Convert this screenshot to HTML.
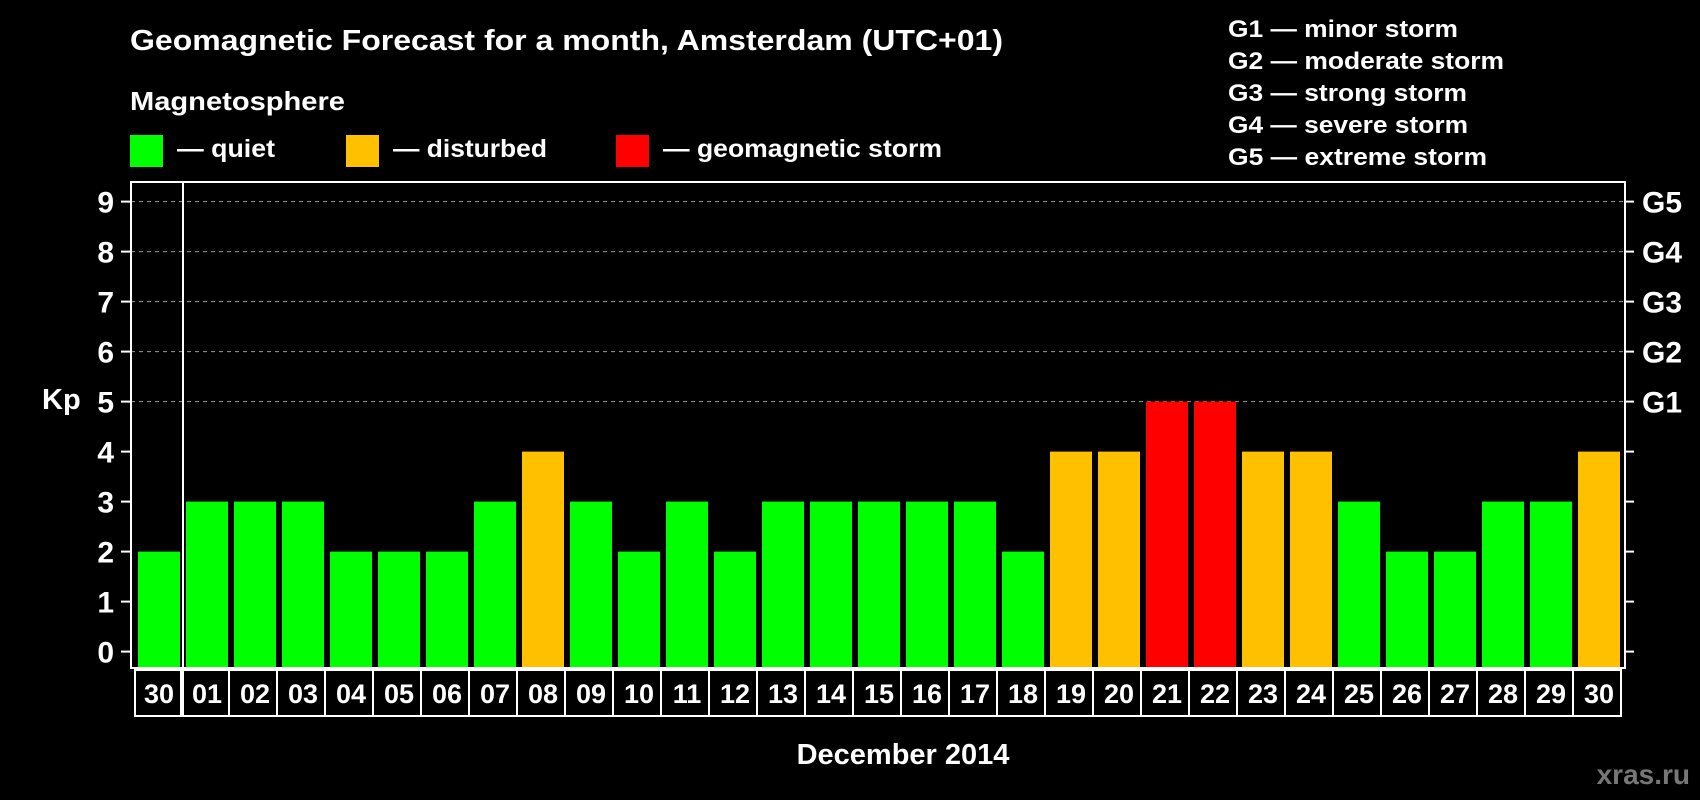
<!DOCTYPE html>
<html><head><meta charset="utf-8"><style>
html,body{margin:0;padding:0;background:#000;}
svg{display:block;font-family:"Liberation Sans",Arial,sans-serif;font-weight:bold;}
</style></head><body>
<svg id="chart" width="1700" height="800" viewBox="0 0 1700 800" xmlns="http://www.w3.org/2000/svg">
<rect width="1700" height="800" fill="#000"/>
<text x="130" y="50" fill="#fff" font-size="29" textLength="873" lengthAdjust="spacingAndGlyphs">Geomagnetic Forecast for a month, Amsterdam (UTC+01)</text>
<text x="130" y="110" fill="#fff" font-size="26" textLength="215" lengthAdjust="spacingAndGlyphs">Magnetosphere</text>
<g>
<rect x="130" y="135" width="33" height="32" fill="#00ff00"/>
<text x="177" y="157" fill="#fff" font-size="25" textLength="98" lengthAdjust="spacingAndGlyphs">— quiet</text></g>
<g>
<rect x="346" y="135" width="33" height="32" fill="#ffc000"/>
<text x="393" y="157" fill="#fff" font-size="25" textLength="154" lengthAdjust="spacingAndGlyphs">— disturbed</text></g>
<g>
<rect x="616" y="135" width="33" height="32" fill="#ff0000"/>
<text x="663" y="157" fill="#fff" font-size="25" textLength="279" lengthAdjust="spacingAndGlyphs">— geomagnetic storm</text></g>
<g fill="#fff" font-size="24">
<text x="1228" y="37" textLength="230" lengthAdjust="spacingAndGlyphs">G1 — minor storm</text>
<text x="1228" y="69" textLength="276" lengthAdjust="spacingAndGlyphs">G2 — moderate storm</text>
<text x="1228" y="101" textLength="239" lengthAdjust="spacingAndGlyphs">G3 — strong storm</text>
<text x="1228" y="133" textLength="240" lengthAdjust="spacingAndGlyphs">G4 — severe storm</text>
<text x="1228" y="165" textLength="259" lengthAdjust="spacingAndGlyphs">G5 — extreme storm</text>
</g>
<text x="42" y="409" fill="#fff" font-size="29">Kp</text>
<text x="903" y="764" fill="#fff" font-size="29" text-anchor="middle">December 2014</text>
<text x="1690" y="784" fill="#777" font-size="28" text-anchor="end">xras.ru</text>
<g id="grid"></g><g id="bars"></g><g id="labels"></g>
<rect x="131" y="182" width="1494" height="486" fill="none" stroke="#fff" stroke-width="2"/>
<line x1="183" y1="182" x2="183" y2="668" stroke="#fff" stroke-width="2"/>
</svg>
<script>
const days = ["30","01","02","03","04","05","06","07","08","09","10","11","12","13","14","15","16","17","18","19","20","21","22","23","24","25","26","27","28","29","30"];
const kp = [2,3,3,3,2,2,2,3,4,3,2,3,2,3,3,3,3,3,2,4,4,5,5,4,4,3,2,2,3,3,4];
const yTicks = [0,1,2,3,4,5,6,7,8,9];
const gLabels = ["G1","G2","G3","G4","G5"];
const NS="http://www.w3.org/2000/svg";
const y = v => 651.6 - v*50;
const x = i => 138 + i*48;
const BOTTOM = 668;
function mk(t,a,p){const e=document.createElementNS(NS,t);for(const k in a)e.setAttribute(k,a[k]);p.appendChild(e);return e;}
const grid=document.getElementById('grid'),bars=document.getElementById('bars'),labels=document.getElementById('labels');
yTicks.forEach(v=>{
  const yy=y(v);
  if(v>=5){const g=mk('line',{x1:131,x2:1625,y1:yy,y2:yy,stroke:'#999','stroke-dasharray':'4,4','stroke-width':1},grid);
  
  }
  mk('line',{x1:121,x2:131,y1:yy,y2:yy,stroke:'#fff','stroke-width':2},grid);
  mk('line',{x1:1625,x2:1634,y1:yy,y2:yy,stroke:'#fff','stroke-width':2},grid);
  const t=mk('text',{x:114,y:yy+11,fill:'#fff','font-size':30,'text-anchor':'end'},grid);
  
  
  t.textContent=v;
  if(v>=5){const g=mk('text',{x:1642,y:yy+11,fill:'#fff','font-size':30},grid);
  
  
  g.textContent=gLabels[v-5];}
});
kp.forEach((v,i)=>{
  const c=v>=5?'#ff0000':(v>=4?'#ffc000':'#00ff00');
  const r=mk('rect',{x:x(i),y:y(v),width:42,height:BOTTOM-y(v),fill:c},bars);
  
  
  const b=mk('rect',{x:i==0?135:x(i)-5,y:670,width:48,height:46,fill:'none',stroke:'#fff','stroke-width':2},labels);
  
  
  const t=mk('text',{x:x(i)+21,y:703,fill:'#fff','font-size':27,'text-anchor':'middle'},labels);
  
  
  t.textContent=days[i];
});
</script>
</body></html>
